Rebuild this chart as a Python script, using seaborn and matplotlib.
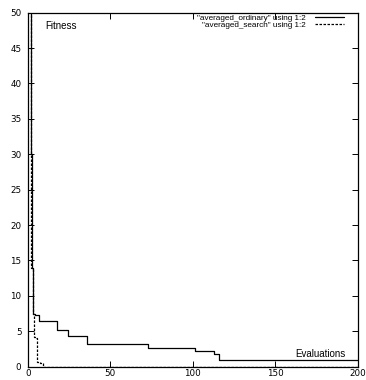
import numpy as np
import pandas as pd
import seaborn as sns
import matplotlib.pyplot as plt

# averaged fitness vs evaluations
ordinary_x = [1, 2, 2.6, 3, 4.2, 6.9, 17.9, 24.2, 36.2, 73, 101, 112.6, 116, 200]
ordinary_y = [60, 30, 14, 7.5, 7.3, 6.5, 5.2, 4.4, 3.2, 2.7, 2.2, 1.8, 1.0, 1.0]
search_x = [1, 2, 3, 4.1, 5.3, 5.9, 7.7, 9.3, 200]
search_y = [60, 14, 7.5, 4.2, 4.0, 0.7, 0.5, 0.0, 0.0]

x_ticks = [0, 50, 100, 150, 200]
y_ticks = list(range(0, 55, 5))

sns.set_style("ticks")
plt.rcParams['font.family'] = ['Liberation Sans', 'DejaVu Sans']
plt.rcParams['text.color'] = 'black'
plt.rcParams['xtick.color'] = 'black'
plt.rcParams['ytick.color'] = 'black'
plt.rcParams['axes.edgecolor'] = 'black'

fig = plt.figure(figsize=(3.66, 3.80), dpi=100)
ax = fig.add_axes([0.0757, 0.035, 0.9025, 0.9316])

df_ord = pd.DataFrame({"x": ordinary_x, "y": ordinary_y})
df_sea = pd.DataFrame({"x": search_x, "y": search_y})

sns.lineplot(data=df_ord, x="x", y="y", ax=ax, color="black", lw=0.9,
             drawstyle="steps-post", label='"averaged_ordinary" using 1:2')
sns.lineplot(data=df_sea, x="x", y="y", ax=ax, color="black", lw=0.9,
             drawstyle="steps-post", linestyle=(0, (2, 1.2)),
             label='"averaged_search" using 1:2')

ax.set_xlim(0, 200)
ax.set_ylim(0, 50)
ax.set_xticks(x_ticks)
ax.set_yticks(y_ticks)
ax.set_xlabel("")
ax.set_ylabel("")
ax.tick_params(direction="in", top=True, right=True, length=4, width=0.7,
               colors="black")
ax.tick_params(axis="x", pad=1.5)
ax.tick_params(axis="y", pad=4.5)
for lab in ax.get_xticklabels() + ax.get_yticklabels():
    lab.set_fontfamily("DejaVu Sans")
    lab.set_fontsize(6.3)
for s in ax.spines.values():
    s.set_linewidth(0.9)
    s.set_color("black")

ax.text(10.5, 48.1, "Fitness", fontsize=7, va="center")
ax.text(192.3, 1.8, "Evaluations", fontsize=7, ha="right", va="center")

leg = ax.legend(loc="upper right", bbox_to_anchor=(0.9576, 0.996),
                frameon=False, markerfirst=False, fontsize=5.9,
                handlelength=3.6, handletextpad=1.1, labelspacing=-0.12,
                borderaxespad=0, borderpad=0)

fig.savefig("out.png", dpi=100)
